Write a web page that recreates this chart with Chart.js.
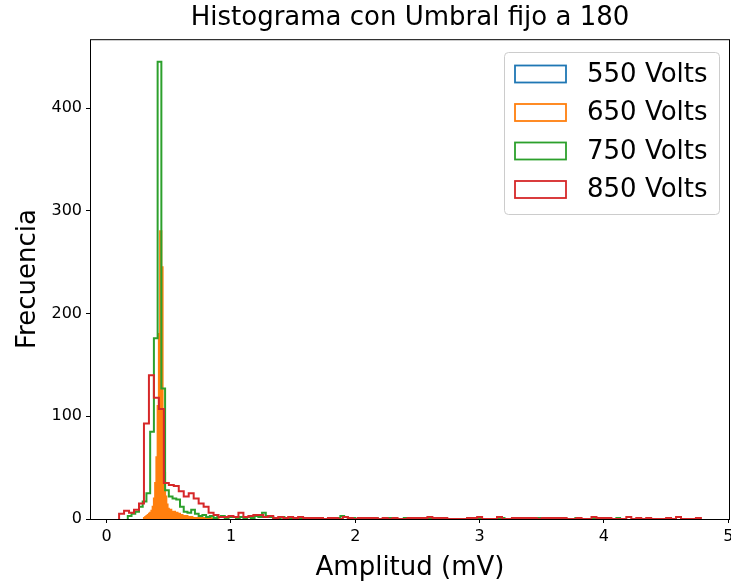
<!DOCTYPE html>
<html><head><meta charset="utf-8">
<script src="https://cdn.jsdelivr.net/npm/chart.js@4.4.0/dist/chart.umd.min.js"></script>
<style>html,body{margin:0;padding:0;background:#fff}#wrap{width:731px;height:586px}</style>
</head><body><div id="wrap"><canvas id="c" width="731" height="586"></canvas></div>
<script>
const chartTitle = 'Histograma con Umbral fijo a 180';
const xTitle = 'Amplitud (mV)';
const yTitle = 'Frecuencia';
const seriesLabels = ['550 Volts', '650 Volts', '750 Volts', '850 Volts'];
const seriesColors = ['#1f77b4', '#ff7f0e', '#2ca02c', '#d62728'];
const xTicks = [0, 1, 2, 3, 4, 5];
const yTicks = [0, 100, 200, 300, 400];

// 550 Volts (hidden under 650)
const binStart550 = 0.40, binWidth550 = 0.01;
const counts550 = [5, 20, 60, 90, 40, 10, 3];

// 650 Volts
const binStart650 = 0.30, binWidth650 = 0.01;
const counts650 = [1,2,3,4,5,6,8,12,20,35,
  60,110,180,280,245,100,45,22,14,10,
  8,9,7,6,7,5,6,4,5,3,
  4,3,3,2,3,2,2,1,2,1,
  1,0,1,0,1,0,1,0,1,0,
  1,0,0,1,0,0,1,0,0,1];

// 750 Volts
const binStart750 = 0.17, binWidth750 = 0.03;
const counts750 = [3,5,7,12,17,25,85,176,445,127,
  28,22,20,19,12,7,6,9,5,3,
  4,2,3,1,2,3,1,2,2,1,
  2,1,2,1,3,2,6,3,2,1,
  1,2,1,1,0,1,0,1,0,1,
  0,1,0,0,1,0,1,3,2,0,
  1,0,0,1,0,0,1,0,0,0,
  1,0,0,0,1,0,0,0,0,1,
  0,0,0,1,0,0,0,0,0,0,
  0,1,0,0,0,0,0,0,0,0,
  1,0,0,0,0,0,0,0,0,0,
  1,0,0,0,0,0,0,0,0,0,
  1,0,0,0,0,0,0,0,0,0,
  0,1];

// 850 Volts
const binStart850 = 0.10, binWidth850 = 0.04;
const counts850 = [5,8,6,9,15,93,140,118,107,35,
  33,32,27,22,25,20,15,12,6,4,
  2,2,3,2,6,2,3,4,4,2,
  3,1,2,1,2,1,2,1,1,1,
  1,0,1,1,0,2,1,0,1,1,
  1,1,0,1,0,1,0,0,1,1,
  1,1,2,1,1,1,0,0,0,0,
  1,1,2,0,0,0,2,0,0,1,
  1,1,1,1,0,1,1,1,1,1,
  0,0,1,0,0,2,1,1,1,0,
  0,0,2,0,1,0,1,0,0,0,
  1,0,2,0,0,0,1];

function stepPoints(start, width, counts) {
  const pts = [{x: start, y: 0}];
  counts.forEach((c, i) => pts.push({x: start + i * width, y: c}));
  pts.push({x: start + counts.length * width, y: 0});
  return pts;
}

const FONT = '"DejaVu Sans", sans-serif';

const seriesData = [
  stepPoints(binStart550, binWidth550, counts550),
  stepPoints(binStart650, binWidth650, counts650),
  stepPoints(binStart750, binWidth750, counts750),
  stepPoints(binStart850, binWidth850, counts850)
];

const datasets = seriesLabels.map((lab, i) => ({
  label: lab,
  data: seriesData[i],
  borderColor: seriesColors[i],
  backgroundColor: seriesColors[i],
  borderWidth: 2,
  pointRadius: 0,
  stepped: 'before',
  fill: i === 1 ? 'origin' : false,
  order: 3 - i,
  tension: 0
}));

const framePlugin = {
  id: 'frame',
  afterLayout(chart) {
    if (chart.titleBlock) {
      chart.titleBlock.left = chart.chartArea.left;
      chart.titleBlock.right = chart.chartArea.right;
    }
  },
  afterDatasetsDraw(chart) {
    const {ctx, chartArea: a} = chart;
    ctx.save();
    ctx.strokeStyle = '#000';
    ctx.lineWidth = 1;
    ctx.strokeRect(a.left + 0.5, a.top + 0.5, a.right - a.left - 1, a.bottom - a.top);
    ctx.restore();
  }
};

const legendPlugin = {
  id: 'boxLegend',
  afterDraw(chart) {
    const ctx = chart.ctx;
    ctx.save();
    const bx = 504.5, by = 52.5, bw = 215, bh = 162;
    ctx.beginPath();
    ctx.roundRect(bx, by, bw, bh, 4);
    ctx.fillStyle = 'rgba(255,255,255,0.8)';
    ctx.fill();
    ctx.strokeStyle = '#cccccc';
    ctx.lineWidth = 1;
    ctx.stroke();
    ctx.font = '26px ' + FONT;
    ctx.textBaseline = 'middle';
    ctx.textAlign = 'left';
    seriesLabels.forEach((lab, i) => {
      const cy = 74 + i * 38.5;
      ctx.strokeStyle = seriesColors[i];
      ctx.lineWidth = 1.8;
      ctx.strokeRect(515, cy - 8.5, 51, 17);
      ctx.fillStyle = '#000';
      ctx.fillText(lab, 587, cy + 1);
    });
    ctx.restore();
  }
};

new Chart(document.getElementById('c'), {
  type: 'line',
  data: {datasets},
  options: {
    responsive: false,
    animation: false,
    devicePixelRatio: 1,
    layout: {padding: {left: 0, right: 1, top: 0, bottom: 0}},
    plugins: {
      legend: {display: false},
      tooltip: {enabled: false},
      title: {
        display: true,
        text: chartTitle,
        color: '#000',
        font: {family: FONT, size: 26, weight: 'normal'},
        padding: {top: 3, bottom: 5}
      }
    },
    scales: {
      x: {
        type: 'linear',
        min: -0.134,
        max: 5.014,
        afterBuildTicks: s => { s.ticks = xTicks.map(v => ({value: v})); },
        afterFit: s => { s.height = 67; s.paddingLeft = 0; s.paddingRight = 0; },
        ticks: {color: '#000', font: {family: FONT, size: 16}, padding: 4, maxRotation: 0, autoSkip: false},
        grid: {drawOnChartArea: false, tickLength: 4, color: '#000'},
        border: {display: false},
        title: {display: true, text: xTitle, color: '#000', font: {family: FONT, size: 26}, padding: {top: 0, bottom: 2}}
      },
      y: {
        min: 0,
        max: 467,
        afterBuildTicks: s => { s.ticks = yTicks.map(v => ({value: v})); },
        afterFit: s => { s.width = 90; s.paddingTop = 0; s.paddingBottom = 0; },
        ticks: {color: '#000', font: {family: FONT, size: 16}, padding: 4},
        grid: {drawOnChartArea: false, tickLength: 4, color: '#000'},
        border: {display: false},
        title: {display: true, text: yTitle, color: '#000', font: {family: FONT, size: 26}, padding: {top: 13, bottom: 0}}
      }
    }
  },
  plugins: [framePlugin, legendPlugin]
});
</script>
</body></html>
